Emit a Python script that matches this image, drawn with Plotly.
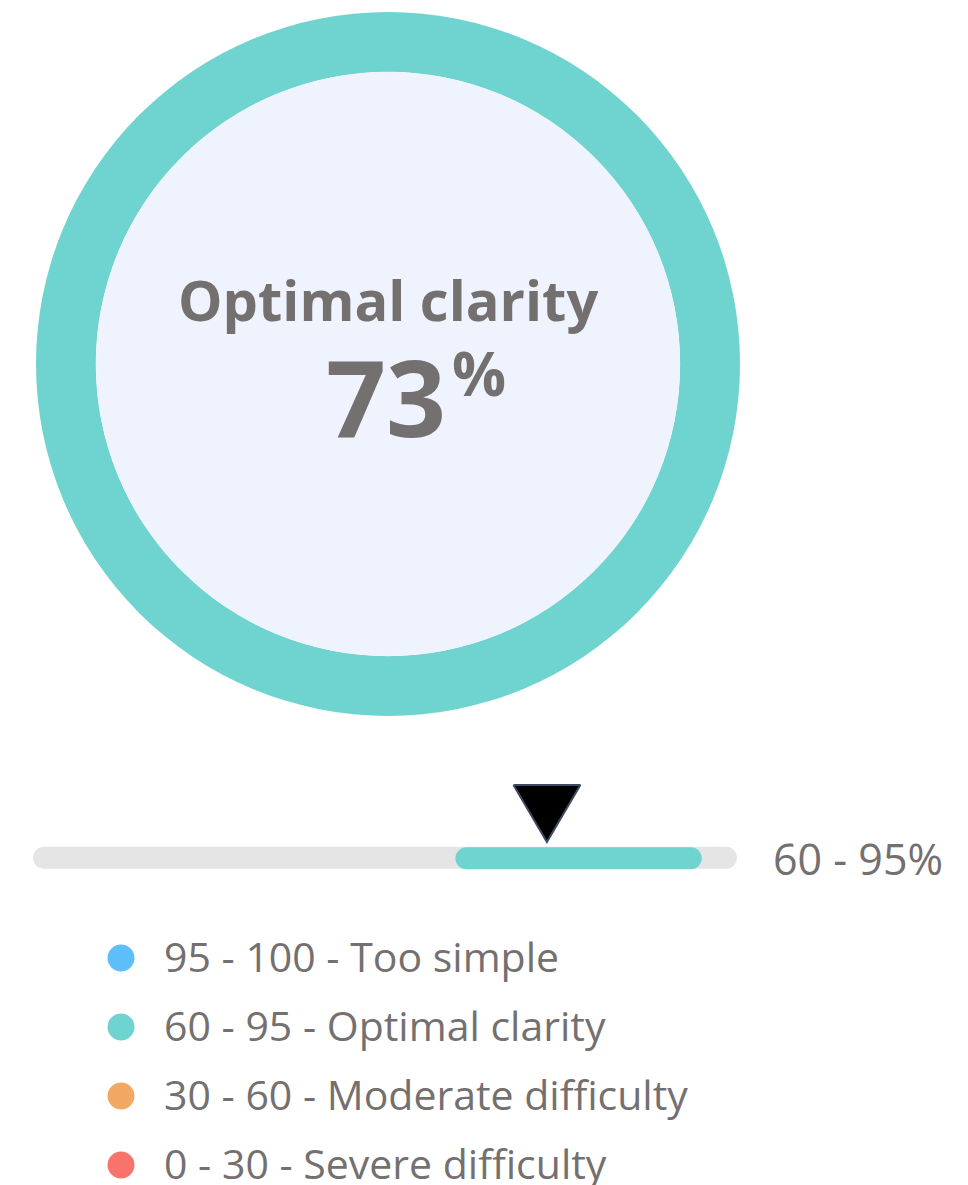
import plotly.graph_objects as go

# ---- data ----
score = 73
score_label = "Optimal clarity"
ring_labels = ["Optimal clarity"]
ring_values = [100]
range_low = 60
range_high = 95
scale_min = 0
scale_max = 100
band_labels = ["95 - 100 - Too simple", "60 - 95 - Optimal clarity",
               "30 - 60 - Moderate difficulty", "0 - 30 - Severe difficulty"]
band_colors = ["#5EBEF9", "#6FD3CF", "#F1A862", "#F7736B"]

W, H = 968, 1185
TEAL = "#6FD3CF"
TEXT = "#747070"
FONT = "Open Sans"

def py(p):  # pixel y -> paper y
    return 1 - p / H

fig = go.Figure()

# ring
fig.add_trace(go.Pie(
    labels=ring_labels, values=ring_values, hole=0.83,
    marker=dict(colors=[TEAL], line=dict(width=0)),
    textinfo="none", hoverinfo="skip", sort=False, showlegend=False,
    domain=dict(x=[36 / W, 740 / W], y=[py(716), py(12)]),
))

# track + range bar
fig.add_trace(go.Bar(
    x=[scale_max - scale_min], base=[scale_min], y=[858], orientation="h",
    width=22, marker=dict(color="#E5E5E5", cornerradius=11, line=dict(width=0)),
    xaxis="x2", yaxis="y2", showlegend=False, hoverinfo="skip",
))
fig.add_trace(go.Bar(
    x=[range_high - range_low], base=[range_low], y=[858], orientation="h",
    width=22, marker=dict(color=TEAL, cornerradius=11, line=dict(width=0)),
    xaxis="x2", yaxis="y2", showlegend=False, hoverinfo="skip",
))
# pointer triangle
hw = 4.75
fig.add_trace(go.Scatter(
    x=[score - hw, score + hw, score, score - hw], y=[785, 785, 842, 785],
    mode="lines", fill="toself", fillcolor="black",
    line=dict(color="#3D4B60", width=2),
    xaxis="x2", yaxis="y2", showlegend=False, hoverinfo="skip",
))

# legend rows
rows_y = [958 + i * 69 for i in range(len(band_labels))]
fig.add_trace(go.Scatter(
    x=[121] * len(band_labels), y=rows_y, mode="markers",
    marker=dict(size=27, color=band_colors, line=dict(width=0)),
    xaxis="x3", yaxis="y3", showlegend=False, hoverinfo="skip",
))
fig.add_trace(go.Scatter(
    x=[164] * len(band_labels), y=[r + 4 for r in rows_y], mode="text", text=band_labels,
    textposition="middle right", textfont=dict(family=FONT, size=41, color=TEXT),
    xaxis="x3", yaxis="y3", showlegend=False, hoverinfo="skip",
))

ax_off = dict(visible=False, showgrid=False, zeroline=False, fixedrange=True)

fig.update_layout(
    width=W, height=H, margin=dict(l=0, r=0, t=0, b=0),
    paper_bgcolor="white", plot_bgcolor="rgba(0,0,0,0)",
    xaxis2=dict(domain=[33 / W, 737 / W], range=[scale_min, scale_max], anchor="y2", **ax_off),
    yaxis2=dict(domain=[py(880), py(775)], range=[880, 775], anchor="x2", **ax_off),
    xaxis3=dict(domain=[0, 1], range=[0, W], anchor="y3", **ax_off),
    yaxis3=dict(domain=[0, 1], range=[H, 0], anchor="x3", **ax_off),
    shapes=[dict(type="circle", xref="paper", yref="paper",
                 x0=96 / W, x1=680 / W, y0=py(656), y1=py(72),
                 fillcolor="#EEF3FE", line=dict(width=0), layer="above")],
    annotations=[
        dict(text=f"<b>{score_label}</b>", xref="paper", yref="paper",
             x=388 / W, y=py(299), xanchor="center", yanchor="middle", showarrow=False,
             font=dict(family=FONT, size=56, color=TEXT)),
        dict(text=f"<b>{score}</b>", xref="paper", yref="paper",
             x=448 / W, y=py(396), xanchor="right", yanchor="middle", showarrow=False,
             font=dict(family=FONT, size=105, color=TEXT)),
        dict(text="<b>%</b>", xref="paper", yref="paper",
             x=450 / W, y=py(373), xanchor="left", yanchor="middle", showarrow=False,
             font=dict(family=FONT, size=60, color=TEXT)),
        dict(text=f"{range_low} - {range_high}%", xref="paper", yref="y2",
             x=771 / W, y=858, xanchor="left", yanchor="middle", showarrow=False,
             font=dict(family=FONT, size=43, color=TEXT)),
    ],
)

fig.write_html("out.html", config={"displayModeBar": False},
               post_script="document.body.style.margin='0px';")
